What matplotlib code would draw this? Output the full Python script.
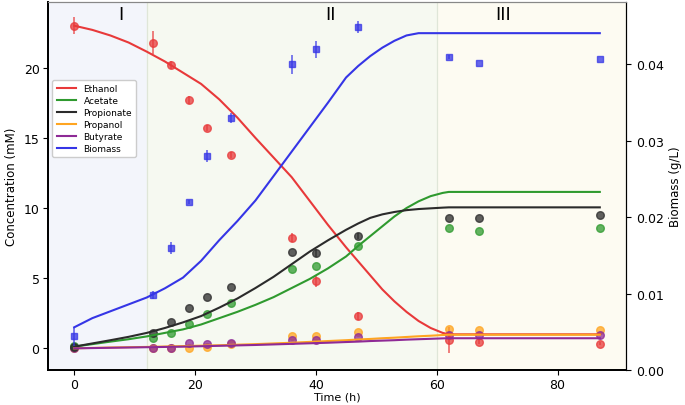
import numpy as np
import matplotlib
matplotlib.use("Agg")
import matplotlib.pyplot as plt

# measured time points (h)
t_data = [0, 13, 16, 19, 22, 26, 36, 40, 47, 62, 67, 87]

ethanol = [23.0, 21.8, 20.2, 17.7, 15.7, 13.8, 7.9, 4.8, 2.3, 0.6, 0.48, 0.33]
ethanol_err = [0.6, 0.8, 0.3, 0.3, 0.2, 0.2, 0.3, 0.4, 0.3, 0.9, 0.2, 0.1]
acetate = [0.2, 0.73, 1.1, 1.75, 2.47, 3.2, 5.65, 5.87, 7.3, 8.57, 8.4, 8.57]
propionate = [0.1, 1.1, 1.9, 2.87, 3.65, 4.4, 6.9, 6.8, 8.0, 9.3, 9.3, 9.47]
propionate_err = [0, 0, 0, 0, 0, 0, 0, 0.3, 0.2, 0, 0, 0]
propanol = [0.0, 0.0, 0.0, 0.05, 0.1, 0.3, 0.9, 0.9, 1.2, 1.37, 1.28, 1.28]
butyrate = [0.0, 0.0, 0.0, 0.36, 0.3, 0.36, 0.6, 0.6, 0.78, 0.93, 0.93, 0.93]
biomass = [0.0044, 0.0098, 0.0160, 0.0220, 0.0280, 0.0330, 0.0400, 0.0420, 0.0449, 0.0410, 0.0402, 0.0407]
biomass_err = [0.0012, 0.0005, 0.0008, 0.0003, 0.0008, 0.0006, 0.0012, 0.0011, 0.0008, 0.0003, 0.0, 0.0]

# model curves
t_model = [0, 3, 6, 9, 12, 15, 18, 21, 24, 27, 30, 33, 36, 39, 42, 45, 47, 49, 51, 53, 55, 57,
           59, 61, 62, 87]
ethanol_m = [23.0, 22.7, 22.3, 21.8, 21.15, 20.45, 19.65, 18.85, 17.75, 16.45, 15.0, 13.6, 12.2,
             10.5, 8.8, 7.2, 6.2, 5.2, 4.2, 3.35, 2.6, 1.95, 1.45, 1.1, 1.0, 1.0]
acetate_m = [0.12, 0.3, 0.48, 0.65, 0.85, 1.1, 1.35, 1.7, 2.15, 2.6, 3.1, 3.65, 4.3, 4.95,
             5.7, 6.55, 7.3, 8.0, 8.7, 9.4, 10.0, 10.48, 10.85, 11.08, 11.15, 11.15]
propionate_m = [0.12, 0.35, 0.58, 0.82, 1.1, 1.45, 1.85, 2.3, 2.9, 3.55, 4.3, 5.1, 6.0, 6.9,
                7.7, 8.45, 8.9, 9.3, 9.55, 9.72, 9.85, 9.93, 9.98, 10.03, 10.05, 10.05]
propanol_m = [0.0, 0.03, 0.06, 0.08, 0.1, 0.13, 0.16, 0.19, 0.22, 0.26, 0.3, 0.35, 0.4, 0.46,
              0.52, 0.58, 0.63, 0.67, 0.72, 0.76, 0.81, 0.86, 0.9, 0.95, 0.97, 0.97]
butyrate_m = [0.0, 0.02, 0.04, 0.06, 0.08, 0.1, 0.12, 0.15, 0.18, 0.21, 0.24, 0.28, 0.32, 0.36,
              0.4, 0.45, 0.48, 0.52, 0.55, 0.58, 0.62, 0.65, 0.68, 0.71, 0.72, 0.72]
biomass_m = [0.0056, 0.0068, 0.0077, 0.0086, 0.0095, 0.0107, 0.0121, 0.0143, 0.0170, 0.0195,
             0.0222, 0.0254, 0.0286, 0.0318, 0.0350, 0.0383, 0.0398, 0.0411, 0.0422, 0.0431,
             0.0438, 0.0441, 0.0441, 0.0441, 0.0441, 0.0441]

phases = ["I", "II", "III"]
phase_edges = [12, 60]

fig = plt.figure(figsize=(6.85, 4.06), dpi=100)
ax = fig.add_axes([0.070, 0.086, 0.844, 0.907])
ax2 = ax.twinx()

xmin, xmax = -4.35, 91.35
ax.axvspan(xmin, phase_edges[0], color="#f3f5fb", zorder=0)
ax.axvspan(phase_edges[0], phase_edges[1], color="#f6f9f1", zorder=0)
ax.axvspan(phase_edges[1], xmax, color="#fdfbf2", zorder=0)
for e in phase_edges:
    ax.axvline(e, color="#dfe6d8", lw=0.9, zorder=1)

cols = {"Ethanol": "#e8393a", "Acetate": "#2f9a2f", "Propionate": "#2b2b2b",
        "Propanol": "#ffa521", "Butyrate": "#8e2a96", "Biomass": "#3535e6"}

kw = dict(fmt="o", ms=5.5, alpha=0.75, elinewidth=1.2, capsize=0, zorder=3)
ax.errorbar(t_data, propanol, color=cols["Propanol"], **kw)
ax.errorbar(t_data, butyrate, color=cols["Butyrate"], **kw)
ax.errorbar(t_data, acetate, color=cols["Acetate"], **kw)
ax.errorbar(t_data, propionate, yerr=propionate_err, color=cols["Propionate"], **kw)
ax.errorbar(t_data, ethanol, yerr=ethanol_err, color=cols["Ethanol"], **kw)

handles = []
for name, ys in [("Ethanol", ethanol_m), ("Acetate", acetate_m), ("Propionate", propionate_m),
                 ("Propanol", propanol_m), ("Butyrate", butyrate_m)]:
    h, = ax.plot(t_model, ys, color=cols[name], lw=1.5, label=name, zorder=4)
    handles.append(h)

hb, = ax2.plot(t_model, biomass_m, color=cols["Biomass"], lw=1.5, label="Biomass")
handles.append(hb)
ax2.errorbar(t_data, biomass, yerr=biomass_err, fmt="s", ms=5, alpha=0.75,
             color=cols["Biomass"], elinewidth=1.2, capsize=0)

ax.set_xlim(xmin, xmax)
ax.set_ylim(-1.55, 24.7)
ax2.set_ylim(0, 0.0482)
ax.set_xticks([0, 20, 40, 60, 80])
ax.set_yticks([0, 5, 10, 15, 20])
ax2.set_yticks([0.0, 0.01, 0.02, 0.03, 0.04])
ax2.set_yticklabels(["0.00", "0.01", "0.02", "0.03", "0.04"])

ax.set_xlabel("Time (h)", fontsize=8, labelpad=0)
ax.set_ylabel("Concentration (mM)", fontsize=8.5)
ax2.set_ylabel("Biomass (g/L)", fontsize=8.5)
ax.tick_params(labelsize=9, pad=2.5)
ax2.tick_params(labelsize=9)

for x, s in zip([7.8, 42.5, 71], phases):
    ax.text(x, 24.45, s, ha="center", va="top", fontsize=13)

for a in (ax, ax2):
    a.spines["top"].set_color("#888888")
    a.spines["left"].set_linewidth(1.3)
    a.spines["bottom"].set_linewidth(1.3)

leg = ax.legend(handles=handles, loc="upper left", bbox_to_anchor=(0.0, 0.80),
                fontsize=6.5, framealpha=1, handlelength=2.2, borderpad=0.45, labelspacing=0.33)
leg.set_zorder(10)

fig.savefig("out.png", dpi=100)
